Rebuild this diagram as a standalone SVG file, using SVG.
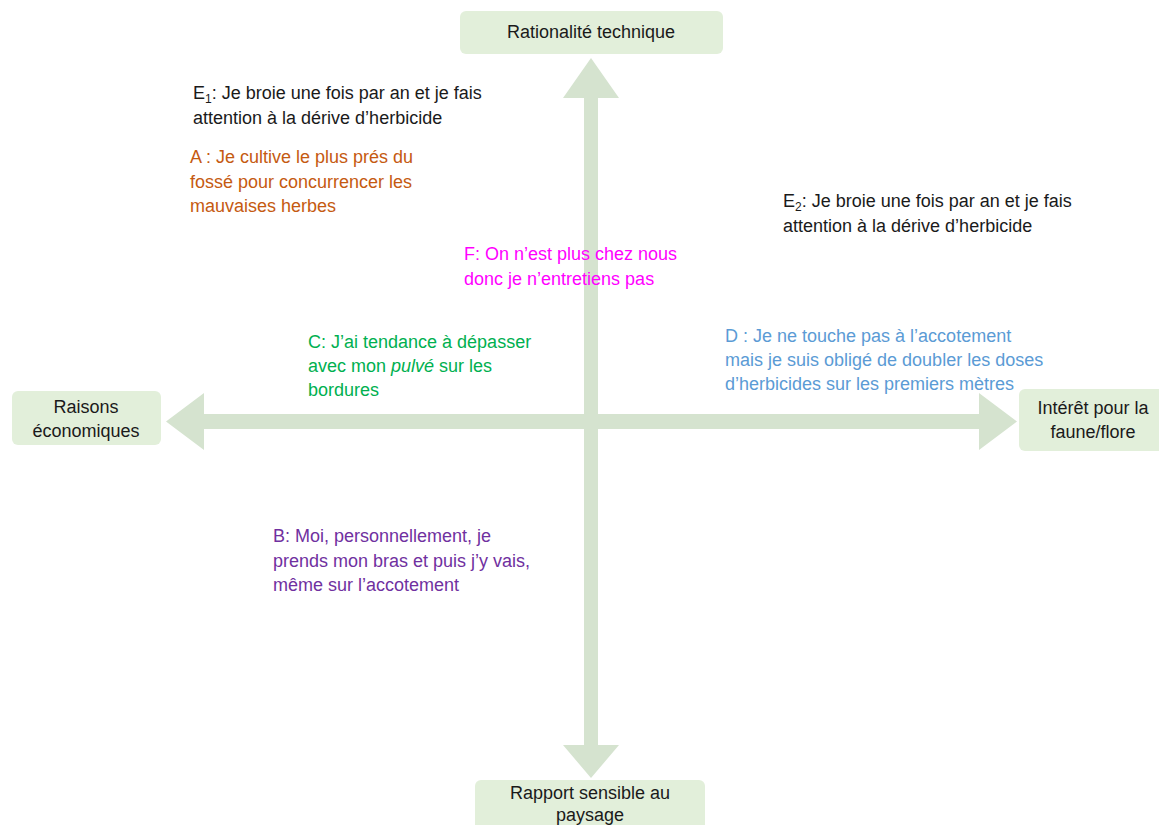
<svg xmlns="http://www.w3.org/2000/svg" width="1159" height="825" viewBox="0 0 1159 825">
<style>
.box{fill:#e2efda;}
.arrow{fill:#d5e3cf;}
text{font-family:"Liberation Sans",Arial,sans-serif;font-size:18px;}
.lbl{fill:#1a1a1a;text-anchor:middle;}
.k{fill:#1a1a1a;}
.a{fill:#c55a11;}
.f{fill:#ff00ff;}
.c{fill:#00b050;}
.d{fill:#5b9bd5;}
.b{fill:#7030a0;}
</style>
<rect width="1159" height="825" fill="#ffffff"/>
<g id="connectors">
<polygon class="arrow" points="591,58 619,98 598,98 598,745 619,745 591,778 563,745 584,745 584,98 563,98"/>
<polygon class="arrow" points="166,421.5 204,393 204,414 979,414 979,393 1017,421.5 979,450 979,429 204,429 204,450"/>
</g>
<g id="node-top">
<rect class="box" x="460" y="11" width="263" height="43" rx="6"/>
<text class="lbl" x="591" y="38">Rationalité technique</text>
</g>
<g id="node-left">
<rect class="box" x="12" y="391" width="149" height="54" rx="6"/>
<text class="lbl" x="86" y="413">Raisons</text>
<text class="lbl" x="86" y="437">économiques</text>
</g>
<g id="node-right">
<rect class="box" x="1019" y="389" width="150" height="62" rx="6"/>
<text class="lbl" x="1093" y="414">Intérêt pour la</text>
<text class="lbl" x="1093" y="438">faune/flore</text>
</g>
<g id="node-bottom">
<rect class="box" x="475" y="780" width="230" height="52" rx="6"/>
<text class="lbl" x="590" y="799">Rapport sensible au</text>
<text class="lbl" x="590" y="821">paysage</text>
</g>
<g id="quote-e1">
<text class="k" x="193" y="99">E<tspan font-size="12" dy="4">1</tspan><tspan dy="-4">: Je broie une fois par an et je fais</tspan></text>
<text class="k" x="193" y="124">attention à la dérive d’herbicide</text>
</g>
<g id="quote-a">
<text class="a" x="190" y="163">A : Je cultive le plus prés du</text>
<text class="a" x="190" y="188">fossé pour concurrencer les</text>
<text class="a" x="190" y="212">mauvaises herbes</text>
</g>
<g id="quote-e2">
<text class="k" x="783" y="207">E<tspan font-size="12" dy="4">2</tspan><tspan dy="-4">: Je broie une fois par an et je fais</tspan></text>
<text class="k" x="783" y="232">attention à la dérive d’herbicide</text>
</g>
<g id="quote-f">
<text class="f" x="464" y="260">F: On n’est plus chez nous</text>
<text class="f" x="464" y="285">donc je n’entretiens pas</text>
</g>
<g id="quote-c">
<text class="c" x="308" y="348">C: J’ai tendance à dépasser</text>
<text class="c" x="308" y="372">avec mon <tspan font-style="italic">pulvé</tspan> sur les</text>
<text class="c" x="308" y="396">bordures</text>
</g>
<g id="quote-d">
<text class="d" x="725" y="342">D : Je ne touche pas à l’accotement</text>
<text class="d" x="725" y="366">mais je suis obligé de doubler les doses</text>
<text class="d" x="725" y="390">d’herbicides sur les premiers mètres</text>
</g>
<g id="quote-b">
<text class="b" x="273" y="542">B: Moi, personnellement, je</text>
<text class="b" x="273" y="567">prends mon bras et puis j’y vais,</text>
<text class="b" x="273" y="591">même sur l’accotement</text>
</g>
</svg>
